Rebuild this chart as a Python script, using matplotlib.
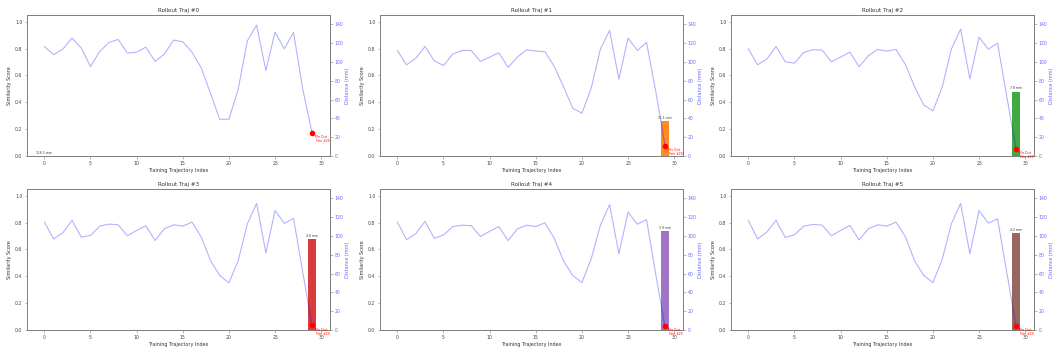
import matplotlib
matplotlib.use('Agg')
import matplotlib.pyplot as plt

train_idx = list(range(30))

# distance (mm) of each training trajectory, per rollout
dist_0 = [116.5, 107.7, 113.7, 125.4, 114.8, 95.2, 111.2, 120.8, 124.0, 109.4,
          110.5, 115.8, 100.6, 108.4, 123.3, 121.5, 110.5, 93.5, 66.8, 39.1,
          39.1, 71.0, 122.6, 139.3, 91.0, 131.8, 114.0, 131.5, 71.0, 24.9]
dist_1 = [112.3, 97.0, 104.0, 116.5, 101.3, 96.3, 108.4, 112.3, 112.3, 100.6,
          105.2, 109.8, 94.2, 105.2, 113.0, 111.6, 110.9, 95.2, 73.9, 50.8,
          45.5, 72.1, 113.7, 133.6, 81.7, 125.4, 112.3, 120.8, 68.6, 11.1]
dist_2 = [114.0, 97.0, 103.0, 116.5, 100.2, 98.8, 110.2, 113.0, 112.7, 100.2,
          105.2, 110.5, 94.9, 106.6, 113.4, 111.6, 113.4, 97.7, 73.9, 54.4,
          48.0, 73.2, 113.7, 135.0, 82.0, 126.5, 113.7, 120.1, 63.3, 7.8]
dist_3 = [114.8, 97.0, 103.4, 116.6, 98.8, 100.6, 110.5, 112.7, 111.9, 100.2,
          105.9, 110.9, 95.2, 107.7, 111.9, 110.5, 114.8, 98.8, 73.9, 58.0,
          50.2, 73.6, 113.0, 134.7, 82.1, 127.2, 113.4, 118.7, 61.5, 4.8]
dist_4 = [115.0, 96.0, 102.5, 115.5, 97.5, 101.0, 110.0, 111.5, 111.0, 99.5,
          105.0, 110.0, 95.0, 107.5, 111.5, 110.0, 114.0, 97.5, 73.5, 58.0,
          50.5, 75.5, 111.5, 133.5, 81.0, 125.5, 112.5, 117.5, 59.0, 3.9]
dist_5 = [116.6, 97.0, 104.1, 116.6, 98.4, 101.3, 110.5, 112.3, 111.6, 100.2,
          105.9, 111.2, 95.9, 107.7, 111.9, 110.5, 114.8, 99.5, 73.9, 58.0,
          50.5, 75.0, 113.0, 134.7, 81.0, 127.2, 113.7, 118.3, 61.5, 4.2]
distances = [dist_0, dist_1, dist_2, dist_3, dist_4, dist_5]

# similarity bar for each rollout
bar_idx = [0, 29, 29, 29, 29, 29]
bar_score = [0.0, 0.26, 0.48, 0.68, 0.74, 0.72]
bar_labels = ['116.5 mm', '11.1 mm', '7.8 mm', '4.8 mm', '3.9 mm', '4.2 mm']
bar_colors = ['#1f77b4', '#ff7f0e', '#2ca02c', '#d62728', '#9467bd', '#8c564b']
min_idx = [29, 29, 29, 29, 29, 29]

W, H = 1053, 352
fig = plt.figure(figsize=(W / 100, H / 100), dpi=100)

# panel boxes in pixels: left, right, top, bottom
lefts = [27, 380, 731]
rights = [330, 683, 1034]
tops = [15, 189]
bottoms = [156, 330]

spine_col = '#808080'

for k in range(6):
    r, c = divmod(k, 3)
    ax = fig.add_axes([lefts[c] / W, 1 - bottoms[r] / H,
                       (rights[c] - lefts[c]) / W, (bottoms[r] - tops[r]) / H])
    ax.bar(bar_idx[k], bar_score[k], width=0.8, color=bar_colors[k], alpha=0.9)
    ax.text(bar_idx[k], bar_score[k] + 0.008, bar_labels[k], ha='center', va='bottom',
            fontsize=2.2, color='#333333')
    ax.set_xlim(-1.88, 30.95)
    ax.set_ylim(0, 1.05)
    ax.set_xticks([0, 5, 10, 15, 20, 25, 30])
    ax.set_yticks([0.0, 0.2, 0.4, 0.6, 0.8, 1.0])
    ax.set_title(f'Rollout Traj #{k}', fontsize=4.1, pad=2.5, color='#333333')
    ax.set_xlabel('Training Trajectory Index', fontsize=3.5, labelpad=1.5, color='#333333')
    ax.set_ylabel('Similarity Score', fontsize=3.5, labelpad=2, color='#333333')
    ax.tick_params(labelsize=3.3, length=1.8, width=0.4, pad=1.5,
                   colors=spine_col, labelcolor='#444444')

    ax2 = ax.twinx()
    d = distances[k]
    ax2.plot(train_idx, d, color='blue', alpha=0.3, linewidth=0.8)
    m = min_idx[k]
    ax2.plot(m, d[m], 'o', color='red', markersize=3)
    ax2.annotate('Min Dist\nTrain #29', xy=(m, d[m]), xytext=(2.5, -1.5),
                 textcoords='offset points', ha='left', va='top',
                 fontsize=2.2, color='red', linespacing=1.0)
    ax2.set_ylim(0, 150)
    ax2.set_yticks([0, 20, 40, 60, 80, 100, 120, 140])
    ax2.set_ylabel('Distance (mm)', fontsize=3.5, labelpad=1, color='blue', alpha=0.6)
    ax2.tick_params(labelsize=3.3, length=1.8, width=0.4, pad=1.5,
                    colors=spine_col, labelcolor='#6666ff')
    for a in (ax, ax2):
        for s in a.spines.values():
            s.set_color(spine_col)
            s.set_linewidth(0.7)

fig.savefig('out.png', dpi=100)
